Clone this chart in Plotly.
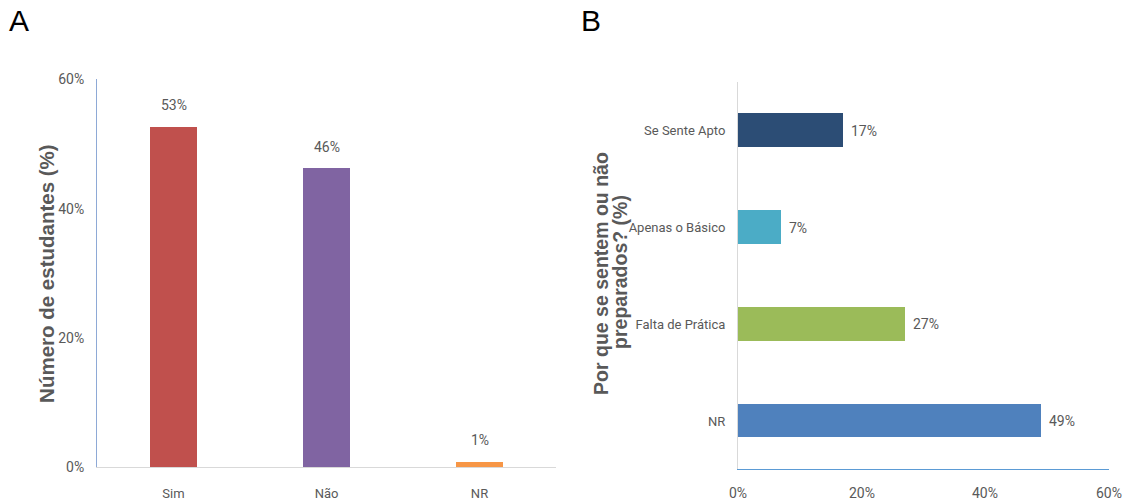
import plotly.graph_objects as go

# Panel A data
cat_a = ["Sim", "Não", "NR"]
val_a = [52.6, 46.2, 0.8]
lab_a = ["53%", "46%", "1%"]
col_a = ["#C0504D", "#8064A2", "#F79646"]

# Panel B data
cat_b = ["Se Sente Apto", "Apenas o Básico", "Falta de Prática", "NR"]
val_b = [17.0, 7.0, 27.0, 49.0]
lab_b = ["17%", "7%", "27%", "49%"]
col_b = ["#2C4D75", "#4BACC6", "#9BBB59", "#4F81BD"]

ticks = [0, 20, 40, 60]
tick_text = ["0%", "20%", "40%", "60%"]

W, H = 1129, 504
# map target picture pixels to figure pixels (vertical direction is photographed slightly compressed)
SX0, SXS = 0.0, 1.0
SY0, SYS = 8.7, 0.966

def px(sx):
    return ((sx - SX0) / SXS) / W

def py(sy):
    return 1 - ((sy - SY0) / SYS) / H

CATFONT = dict(family="Roboto, Open Sans, sans-serif", size=13, color="#595959")
NUMFONT = dict(family="Roboto, Open Sans, sans-serif", size=14, color="#595959")
TITLEFONT = dict(family="Liberation Sans, Arial, sans-serif", size=20.5, color="#595959")
TITLEFONT_B = dict(family="Liberation Sans, Arial, sans-serif", size=19.5, color="#595959")
LETTERFONT = dict(family="Liberation Sans, Arial, sans-serif", size=30, color="#000000")

fig = go.Figure()
fig.add_trace(go.Bar(x=cat_a, y=val_a, marker=dict(color=col_a, line=dict(width=0)),
                     width=0.31, xaxis="x", yaxis="y", showlegend=False, hoverinfo="skip"))
fig.add_trace(go.Bar(y=cat_b, x=val_b, orientation="h", marker=dict(color=col_b, line=dict(width=0)),
                     width=0.35, xaxis="x2", yaxis="y2", showlegend=False, hoverinfo="skip"))

annotations = []
for c, v, t in zip(cat_a, val_a, lab_a):
    annotations.append(dict(x=c, y=v, text=t, xref="x", yref="y", showarrow=False,
                            yanchor="bottom", yshift=12, font=NUMFONT))
for c, v, t in zip(cat_b, val_b, lab_b):
    annotations.append(dict(x=v, y=c, text=t, xref="x2", yref="y2", showarrow=False,
                            xanchor="left", xshift=6, font=NUMFONT))

# tick labels of panel B's value axis
x2_bottom = py(469)
for tv, tt in zip(ticks, tick_text):
    annotations.append(dict(x=tv, y=x2_bottom, xref="x2", yref="paper", text=tt, showarrow=False,
                            xanchor="center", yanchor="middle", yshift=-24, font=NUMFONT))

annotations += [
    dict(x=px(7), y=py(21.5), xref="paper", yref="paper", text="A", showarrow=False,
         xanchor="left", yanchor="middle", font=LETTERFONT),
    dict(x=px(579), y=py(21.5), xref="paper", yref="paper", text="B", showarrow=False,
         xanchor="left", yanchor="middle", font=LETTERFONT),
    dict(x=px(47), y=py(274), xref="paper", yref="paper", text="<b>Número de estudantes (%)</b>",
         showarrow=False, textangle=-90, xanchor="center", yanchor="middle", font=TITLEFONT),
    dict(x=px(601), y=py(274), xref="paper", yref="paper",
         text="<b>Por que se sentem ou não</b>",
         showarrow=False, textangle=-90, xanchor="center", yanchor="middle", font=TITLEFONT_B),
    dict(x=px(620), y=py(272), xref="paper", yref="paper",
         text="<b>preparados? (%)</b>",
         showarrow=False, textangle=-90, xanchor="center", yanchor="middle", font=TITLEFONT_B),
]

fig.update_layout(
    width=W, height=H,
    margin=dict(l=0, r=0, t=0, b=0),
    paper_bgcolor="white", plot_bgcolor="white",
    bargap=0,
    annotations=annotations,
    xaxis=dict(domain=[px(97), px(556)], showgrid=False, zeroline=False,
               showline=True, linecolor="#D9D9D9", linewidth=1,
               tickfont=CATFONT, ticks="", ticklabelstandoff=14, fixedrange=True),
    yaxis=dict(domain=[py(467), py(80)], range=[0, 60], tickvals=ticks, ticktext=tick_text,
               showgrid=False, zeroline=False, showline=True, linecolor="#8EA9D6", linewidth=1,
               tickfont=NUMFONT, ticks="", ticklabelstandoff=9, fixedrange=True),
    xaxis2=dict(domain=[px(738), px(1109)], range=[0, 60], tickvals=ticks,
                showticklabels=False,
                anchor="y2", showgrid=False, zeroline=False, showline=True,
                linecolor="#5B9BD5", linewidth=1, ticks="", fixedrange=True),
    yaxis2=dict(domain=[py(469), py(83)], anchor="x2", autorange="reversed",
                showgrid=False, zeroline=False, showline=True, linecolor="#D9D9D9", linewidth=1,
                tickfont=CATFONT, ticks="", ticklabelstandoff=9, fixedrange=True),
)

fig.write_html("out.html")
